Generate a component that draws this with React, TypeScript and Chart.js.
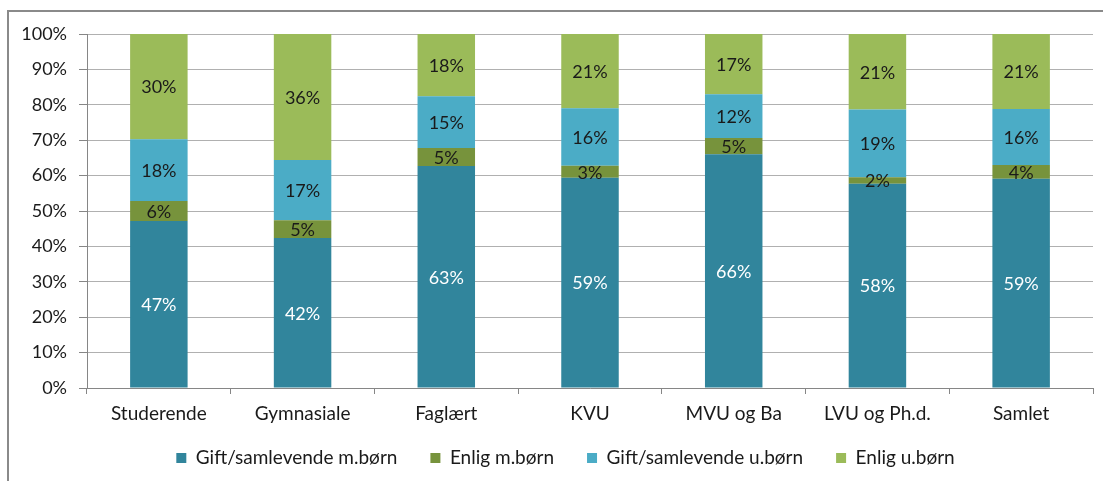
import React, { useEffect, useRef } from 'react';
import { Chart, registerables } from 'chart.js';

Chart.register(...registerables);

const categories = ['Studerende', 'Gymnasiale', 'Faglært', 'KVU', 'MVU og Ba', 'LVU og Ph.d.', 'Samlet'];
const giftMedBoern = [47.2, 42.4, 62.7, 59.4, 66.0, 57.7, 59.1];
const enligMedBoern = [5.6, 5.0, 5.1, 3.4, 4.6, 1.8, 3.9];
const giftUdenBoern = [17.5, 17.0, 14.6, 16.2, 12.4, 19.2, 15.8];
const enligUdenBoern = [29.7, 35.6, 17.6, 21.0, 17.0, 21.3, 21.2];
const seriesNames = ['Gift/samlevende m.børn', 'Enlig m.børn', 'Gift/samlevende u.børn', 'Enlig u.børn'];
const yTicks = [0, 10, 20, 30, 40, 50, 60, 70, 80, 90, 100];

const FONT = 'Lato, "Noto Sans", sans-serif';

const segmentLabels = {
  id: 'segmentLabels',
  afterDatasetsDraw(chart: any) {
    const ctx = chart.ctx;
    ctx.save();
    ctx.font = `18px ${FONT}`;
    ctx.textAlign = 'center';
    ctx.textBaseline = 'middle';
    chart.data.datasets.forEach((ds: any, di: number) => {
      const meta = chart.getDatasetMeta(di);
      meta.data.forEach((el: any, i: number) => {
        const v = ds.data[i];
        const y = (el.y + el.base) / 2;
        ctx.fillStyle = di === 0 ? '#ffffff' : '#1a1a1a';
        ctx.fillText(Math.round(v) + '%', el.x, y + 1);
      });
    });
    ctx.restore();
  },
};

// position the legend row (Excel places it slightly right of centre)
const legendPlace = {
  id: 'legendPlace',
  afterLayout(chart: any) {
    const l = chart.legend;
    if (l) {
      l.left += 19;
      l.right += 19;
      l.top = 415.5;
      l.bottom = 481;
    }
  },
};

export default function App() {
  const ref = useRef<HTMLCanvasElement>(null);
  useEffect(() => {
    if (!ref.current) return;
    const chart = new Chart(ref.current, {
      type: 'bar',
      data: {
        labels: categories,
        datasets: [
          { label: seriesNames[0], data: giftMedBoern, backgroundColor: '#31859C' },
          { label: seriesNames[1], data: enligMedBoern, backgroundColor: '#77933C' },
          { label: seriesNames[2], data: giftUdenBoern, backgroundColor: '#4BACC6' },
          { label: seriesNames[3], data: enligUdenBoern, backgroundColor: '#9BBB59' },
        ],
      },
      options: {
        responsive: false,
        animation: false,
        datasets: { bar: { barPercentage: 1, categoryPercentage: 0.4 } },
        layout: { padding: { top: 34, left: 0, right: 10, bottom: 0 } },
        plugins: {
          tooltip: { enabled: false },
          legend: {
            position: 'bottom',
            maxHeight: 50,
            labels: {
              boxWidth: 10,
              boxHeight: 10,
              padding: 33,
              color: '#1a1a1a',
              font: { family: FONT, size: 19 },
            },
          },
        },
        scales: {
          x: {
            stacked: true,
            afterFit: (s: any) => { s.height = 43; },
            grid: {
              display: true,
              offset: true,
              drawOnChartArea: false,
              drawTicks: true,
              tickLength: 6,
              color: '#868686',
            },
            border: { display: true, color: '#868686', width: 1 },
            ticks: { color: '#1a1a1a', padding: 8, font: { family: FONT, size: 19 }, maxRotation: 0 },
          },
          y: {
            stacked: true,
            min: 0,
            max: 100,
            afterFit: (s: any) => { s.width = 87; },
            afterBuildTicks: (s: any) => { s.ticks = yTicks.map((v) => ({ value: v })); },
            grid: {
              color: '#b0b0b0',
              tickColor: '#868686',
              drawTicks: true,
              tickLength: 8,
            },
            border: { display: true, color: '#868686', width: 1 },
            ticks: {
              color: '#1a1a1a',
              padding: 12,
              font: { family: FONT, size: 18 },
              callback: (v: any) => v + '%',
            },
          },
        },
      } as any,
      plugins: [segmentLabels, legendPlace],
    });
    return () => chart.destroy();
  }, []);

  return (
    <div style={{ position: 'fixed', left: 0, top: 0, width: 1103, height: 481, background: '#fff', overflow: 'hidden' }}>
      <div
        style={{
          position: 'absolute',
          left: 7,
          top: 10,
          width: 1100,
          height: 480,
          borderTop: '2px solid #8a8a8a',
          borderLeft: '2px solid #8a8a8a',
        }}
      />
      <canvas ref={ref} width={1103} height={481} style={{ position: 'absolute', left: 0, top: 0 }} />
    </div>
  );
}
